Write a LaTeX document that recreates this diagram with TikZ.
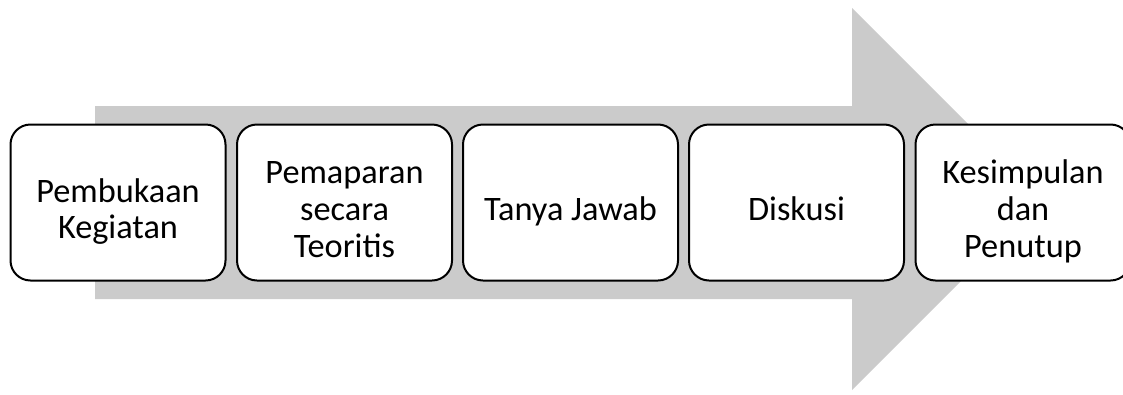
\documentclass[tikz,border=0pt]{standalone}
\usepackage{fontspec}
\setmainfont{Carlito}
\usepackage{tikz}
\usepackage{xcolor}
\definecolor{arrowgray}{RGB}{203,203,203}

\begin{document}
\begin{tikzpicture}[x=1pt,y=-1pt]
        \useasboundingbox (0,0) rectangle (1123,394);

        % big arrow behind the steps
        \fill[arrowgray] (95,106) -- (852,106) -- (852,8) -- (1043,199)
            -- (852,390) -- (852,299) -- (95,299) -- cycle;

        \begin{scope}[every node/.style = {draw, line width=2pt, fill=white,
                        rounded corners=20pt, minimum width=215pt, minimum height=156pt,
                        text width=200pt, align=flush center, font=\fontsize{34.3}{36.7}\selectfont,
                        execute at begin node={\rule{0pt}{47pt}},
                        execute at end node={\strut}}]
            \node (A) at (118, 202.5)  {Pembukaan\\Kegiatan};
            \node (B) at (344.5, 202.5) {Pemaparan\\secara\\Teoritis};
            \node (C) at (570.5, 202.5) {Tanya Jawab};
            \node (D) at (796.5, 202.5) {Diskusi};
            \node (E) at (1023, 202.5)  {Kesimpulan\\dan\\Penutup};
        \end{scope}
    \end{tikzpicture}
\end{document}
